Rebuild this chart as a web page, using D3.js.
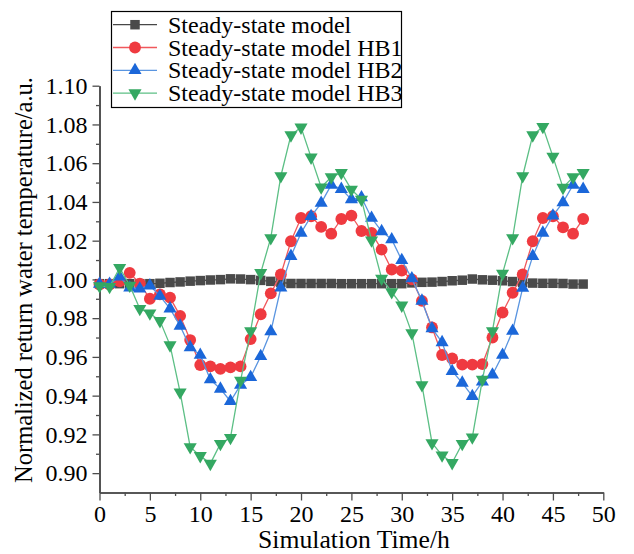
<!DOCTYPE html>
<html>
<head>
<meta charset="utf-8">
<script src="https://d3js.org/d3.v7.min.js"></script>
<style>
  body { margin: 0; background: #fff; }
  text { font-family: "Liberation Serif", "Times New Roman", serif; }
</style>
</head>
<body>
<div id="chart"></div>
<script>
var w = 634, h = 554;

// hours 0..48
var hours = d3.range(0, 49);

var steady = [0.9978,0.9978,0.9978,0.9978,0.9978,0.9978,0.9980,0.9984,0.9987,0.9991,0.9994,0.9997,0.9999,1.0003,1.0002,0.9999,0.9995,0.9990,0.9984,0.9979,0.9979,0.9979,0.9979,0.9979,0.9978,0.9978,0.9978,0.9978,0.9978,0.9978,0.9978,0.9982,0.9985,0.9986,0.9989,0.9993,0.9996,1.0002,0.9998,0.9996,0.9993,0.9989,0.9984,0.9981,0.9980,0.9980,0.9979,0.9976,0.9976];
var hb1 = [0.9974,0.9974,0.9990,1.0034,0.9978,0.9900,0.9923,0.9906,0.9812,0.9687,0.9558,0.9551,0.9538,0.9546,0.9551,0.9692,0.9820,0.9928,1.0026,1.0197,1.0317,1.0326,1.0271,1.0236,1.0312,1.0329,1.0250,1.0240,1.0154,1.0051,1.0046,1.0000,0.9889,0.9752,0.9610,0.9592,0.9560,0.9560,0.9563,0.9700,0.9829,0.9931,1.0026,1.0197,1.0317,1.0326,1.0269,1.0236,1.0312];
var hb2 = [0.9976,0.9976,1.0014,0.9957,0.9952,0.9968,0.9914,0.9849,0.9760,0.9649,0.9610,0.9483,0.9435,0.9371,0.9455,0.9495,0.9603,0.9731,0.9957,1.0120,1.0240,1.0326,1.0394,1.0488,1.0466,1.0413,1.0423,1.0317,1.0248,1.0206,1.0099,1.0005,0.9889,0.9747,0.9675,0.9526,0.9466,0.9397,0.9472,0.9508,0.9610,0.9734,0.9956,1.0120,1.0240,1.0329,1.0397,1.0488,1.0466];
var hb3 = [0.9966,0.9962,1.0060,0.9969,0.9849,0.9825,0.9786,0.9661,0.9418,0.9135,0.9089,0.9049,0.9152,0.9183,0.9478,0.9734,1.0034,1.0214,1.0534,1.0745,1.0785,1.0630,1.0476,1.0528,1.0551,1.0464,1.0413,1.0202,1.0005,0.9935,0.9866,0.9723,0.9455,0.9156,0.9092,0.9053,0.9152,0.9185,0.9483,0.9734,1.0031,1.0214,1.0534,1.0745,1.0788,1.0634,1.0474,1.0528,1.0551];

var names = ["Steady-state model", "Steady-state model HB1", "Steady-state model HB2", "Steady-state model HB3"];
var xTicks = [0, 5, 10, 15, 20, 25, 30, 35, 40, 45, 50];
var yTicks = [0.90, 0.92, 0.94, 0.96, 0.98, 1.00, 1.02, 1.04, 1.06, 1.08, 1.10];

var series = [
  {name: names[0], values: steady, marker: "#4a4a4a", line: "#474747", sym: d3.symbolSquare, size: 90, rot: 0},
  {name: names[1], values: hb1, marker: "#ef3a40", line: "#f0585c", sym: d3.symbolCircle, size: 110, rot: 0},
  {name: names[2], values: hb2, marker: "#1b67d9", line: "#5a95e0", sym: d3.symbolTriangle, size: 74, rot: 0},
  {name: names[3], values: hb3, marker: "#34a862", line: "#5cbf85", sym: d3.symbolTriangle, size: 74, rot: 180}
];

var x = d3.scaleLinear().domain([0, 50]).range([99.5, 603.3]);
var y = d3.scaleLinear().domain([0.89, 1.10]).range([492.5, 85.7]);

var svg = d3.select("#chart").append("svg")
    .attr("width", w)
    .attr("height", h);

var axisColor = "#4d4d4d";
var serif = "Liberation Serif";

// x axis: minor then major ticks
var gx = svg.append("g").attr("transform", "translate(0," + y(0.89) + ")");
gx.call(d3.axisBottom(x).tickValues(d3.range(2.5, 50, 5)).tickSize(3.5).tickSizeOuter(0).tickFormat(""));
gx.append("g").call(d3.axisBottom(x).tickValues(xTicks).tickSize(8).tickSizeOuter(0).tickPadding(4).tickFormat(d3.format("d")));
gx.selectAll("text").attr("font-size", 24).attr("fill", "#000").attr("font-family", serif);

// y axis
var gy = svg.append("g").attr("transform", "translate(" + x(0) + ",0)");
gy.call(d3.axisLeft(y).tickValues(d3.range(0.91, 1.10, 0.02)).tickSize(3.5).tickSizeOuter(0).tickFormat(""));
gy.append("g").call(d3.axisLeft(y).tickValues(yTicks).tickSize(7).tickSizeOuter(0).tickPadding(5).tickFormat(d3.format(".2f")));
gy.selectAll("text").attr("font-size", 24).attr("fill", "#000").attr("font-family", serif);

svg.selectAll(".domain").attr("stroke", axisColor).attr("stroke-width", 1.6);
svg.selectAll(".tick line").attr("stroke", axisColor).attr("stroke-width", 1.3);

// axis titles, sized to the span they take in the original
function fitText(sel, target) {
  var len = sel.node().getComputedTextLength();
  if (len > 0) sel.attr("font-size", 24 * target / len);
}

var xTitle = svg.append("text")
  .attr("x", 354).attr("y", 548)
  .attr("text-anchor", "middle")
  .attr("font-family", serif)
  .attr("font-size", 24)
  .text("Simulation Time/h");
fitText(xTitle, 192);

var yTitle = svg.append("text")
  .attr("transform", "translate(32,280) rotate(-90)")
  .attr("text-anchor", "middle")
  .attr("font-family", serif)
  .attr("font-size", 24)
  .text("Normalized return water temperature/a.u.");
fitText(yTitle, 406);

// series
var line = d3.line()
  .x(function(d, i) { return x(hours[i]); })
  .y(function(d) { return y(d); });

series.forEach(function(s) {
  var g = svg.append("g");
  g.append("path")
    .attr("d", line(s.values))
    .attr("fill", "none")
    .attr("stroke", s.line)
    .attr("stroke-width", 1.3);
  g.selectAll("path.pt")
    .data(s.values)
    .enter().append("path")
    .attr("class", "pt")
    .attr("d", d3.symbol().type(s.sym).size(s.size))
    .attr("transform", function(d, i) {
      return "translate(" + x(hours[i]) + "," + y(d) + ") rotate(" + s.rot + ")";
    })
    .attr("fill", s.marker);
});

// legend
var lg = svg.append("g");
lg.append("rect")
  .attr("x", 111.5).attr("y", 11.5)
  .attr("width", 290).attr("height", 96)
  .attr("fill", "#fff")
  .attr("stroke", "#000")
  .attr("stroke-width", 1.2);

series.forEach(function(s, i) {
  var cy = 24.7 + i * 22.8;
  lg.append("line")
    .attr("x1", 113).attr("x2", 157)
    .attr("y1", cy).attr("y2", cy)
    .attr("stroke", s.line).attr("stroke-width", 1.3);
  lg.append("path")
    .attr("d", d3.symbol().type(s.sym).size(s.size))
    .attr("transform", "translate(135," + cy + ") rotate(" + s.rot + ")")
    .attr("fill", s.marker);
  lg.append("text")
    .attr("x", 168).attr("y", cy + 8)
    .attr("font-family", serif)
    .attr("font-size", 24)
    .text(s.name);
});
</script>
</body>
</html>
